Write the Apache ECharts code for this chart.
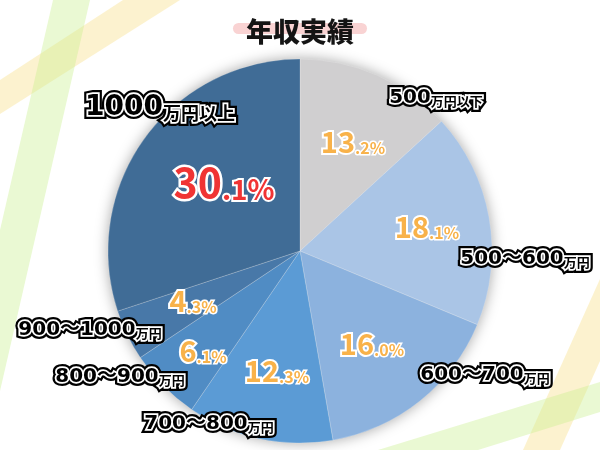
<!DOCTYPE html>
<html>
<head>
<meta charset="utf-8">
<script src="https://cdn.jsdelivr.net/npm/echarts@6/dist/echarts.min.js"></script>
<style>html,body{margin:0;padding:0;background:#fff;}#c{width:600px;height:450px;}</style>
</head>
<body>
<div id="c"></div>
<script>
const chartTitle = '年収実績';
const categories = ['500万円以下', '500〜600万円', '600〜700万円', '700〜800万円', '800〜900万円', '900〜1000万円', '1000万円以上'];
const shares = [13.2, 18.1, 16.0, 12.3, 6.1, 4.3, 30.1];

// styling / layout (not data)
const sliceColors = ['#d0cfd0', '#aac5e6', '#8cb2de', '#5b9bd5', '#508cc4', '#4878a8', '#406c96'];
const nameLabelPos = [[436, 96], [525, 257], [485, 373], [209, 422], [120, 375], [90, 328], [160, 106]];
const pctLabelPos = [[353, 141], [427, 226], [372, 343], [277, 370], [203, 350], [193, 300], [224, 182]];
const FONT = '"Noto Sans CJK JP", "Noto Sans", sans-serif';
const DIGIT_FONT = '"DejaVu Sans", "Noto Sans CJK JP", sans-serif';
const highlightIndex = 6;

const chart = echarts.init(document.getElementById('c'), null, {renderer: 'canvas'});

function nameFormatter(p) {
  const m = p.name.match(/^([0-9〜]+)(.*)$/);
  const big = p.dataIndex === highlightIndex ? 'nb' : 'n';
  const small = p.dataIndex === highlightIndex ? 'ub' : 'u';
  return '{' + big + '|' + m[1] + '}{' + small + '|' + m[2] + '}';
}
function pctFormatter(p) {
  const s = p.value.toFixed(1);
  const parts = s.split('.');
  const h = p.dataIndex === highlightIndex;
  return '{' + (h ? 'rb' : 'ob') + '|' + parts[0] + '}{' + (h ? 'rs' : 'os') + '|.' + parts[1] + '%}';
}

function nameRich(borderColor, borderWidth) {
  const base = {fontWeight: 'bold', color: '#000', textBorderColor: borderColor, textBorderWidth: borderWidth, verticalAlign: 'bottom'};
  return {
    n: Object.assign({}, base, {fontFamily: DIGIT_FONT, fontSize: 20, lineHeight: 24}),
    u: Object.assign({}, base, {fontFamily: FONT, fontSize: 13, lineHeight: 20}),
    nb: Object.assign({}, base, {fontFamily: DIGIT_FONT, fontSize: 28, lineHeight: 32}),
    ub: Object.assign({}, base, {fontFamily: FONT, fontSize: 18, lineHeight: 26})
  };
}

const pieCenter = [300, 251];
const pieRadius = 192;

const dataItems = categories.map((c, i) => ({name: c, value: shares[i], itemStyle: {color: sliceColors[i]}}));

function nameLayer(borderColor, borderWidth) {
  return {
    type: 'pie',
    center: pieCenter,
    radius: pieRadius,
    startAngle: 90,
    silent: true,
    avoidLabelOverlap: false,
    itemStyle: {color: 'rgba(0,0,0,0)', borderWidth: 0},
    emphasis: {disabled: true},
    label: {
      show: true,
      position: 'outside',
      formatter: nameFormatter,
      rich: nameRich(borderColor, borderWidth)
    },
    labelLine: {show: false},
    labelLayout: function (p) {
      const pos = nameLabelPos[p.dataIndex];
      return {x: pos[0], y: pos[1], align: 'center', verticalAlign: 'middle'};
    },
    data: categories.map((c, i) => ({name: c, value: shares[i]}))
  };
}

const option = {
  backgroundColor: '#ffffff',
  animation: false,
  title: {
    text: chartTitle,
    left: 'center',
    top: 13,
    textStyle: {fontFamily: FONT, fontSize: 27, fontWeight: 900, color: '#141414'}
  },
  graphic: [
    {type: 'polygon', silent: true, z: -10, shape: {points: [[0, 80], [123, 0], [180, 0], [0, 114]]}, style: {fill: 'rgba(248, 222, 130, 0.38)'}},
    {type: 'polygon', silent: true, z: -10, shape: {points: [[53, 0], [90, 0], [0, 391], [0, 230]]}, style: {fill: 'rgba(200, 240, 140, 0.38)'}},
    {type: 'polygon', silent: true, z: -10, shape: {points: [[523, 450], [560, 450], [600, 361], [600, 279]]}, style: {fill: 'rgba(248, 222, 130, 0.38)'}},
    {type: 'polygon', silent: true, z: -10, shape: {points: [[378, 450], [600, 382], [600, 412], [478, 450]]}, style: {fill: 'rgba(200, 240, 140, 0.38)'}},
    {type: 'rect', silent: true, z: 0, shape: {x: 233, y: 23, width: 134, height: 11, r: 5.5}, style: {fill: '#f9d3d3'}}
  ],
  series: [
    {
      type: 'pie',
      center: pieCenter,
      radius: pieRadius,
      silent: true,
      label: {show: false},
      labelLine: {show: false},
      itemStyle: {color: '#cccccc', shadowBlur: 14, shadowColor: 'rgba(0,0,0,0.35)'},
      emphasis: {disabled: true},
      data: [{name: 'base', value: 1}]
    },
    {
      type: 'pie',
      center: pieCenter,
      radius: pieRadius,
      startAngle: 90,
      avoidLabelOverlap: false,
      itemStyle: {borderColor: 'rgba(255,255,255,0.25)', borderWidth: 0.8},
      emphasis: {disabled: true},
      label: {
        show: true,
        position: 'inside',
        formatter: pctFormatter,
        rich: {
          ob: {fontFamily: FONT, fontWeight: 'bold', fontSize: 29, lineHeight: 30, color: '#f8b24a', textBorderColor: '#fff', textBorderWidth: 4, verticalAlign: 'bottom'},
          os: {fontFamily: FONT, fontWeight: 'bold', fontSize: 16, lineHeight: 22, color: '#f8b24a', textBorderColor: '#fff', textBorderWidth: 3, verticalAlign: 'bottom'},
          rb: {fontFamily: FONT, fontWeight: 'bold', fontSize: 41, lineHeight: 42, color: '#f03434', textBorderColor: '#fff', textBorderWidth: 5, verticalAlign: 'bottom'},
          rs: {fontFamily: FONT, fontWeight: 'bold', fontSize: 28, lineHeight: 34, color: '#f03434', textBorderColor: '#fff', textBorderWidth: 4, verticalAlign: 'bottom'}
        }
      },
      labelLine: {show: false},
      labelLayout: function (p) {
        const pos = pctLabelPos[p.dataIndex];
        return {x: pos[0], y: pos[1], align: 'center', verticalAlign: 'middle'};
      },
      data: dataItems
    },
    nameLayer('#000', 8),
    nameLayer('#fff', 3.5)
  ]
};
chart.setOption(option);
</script>
</body>
</html>
